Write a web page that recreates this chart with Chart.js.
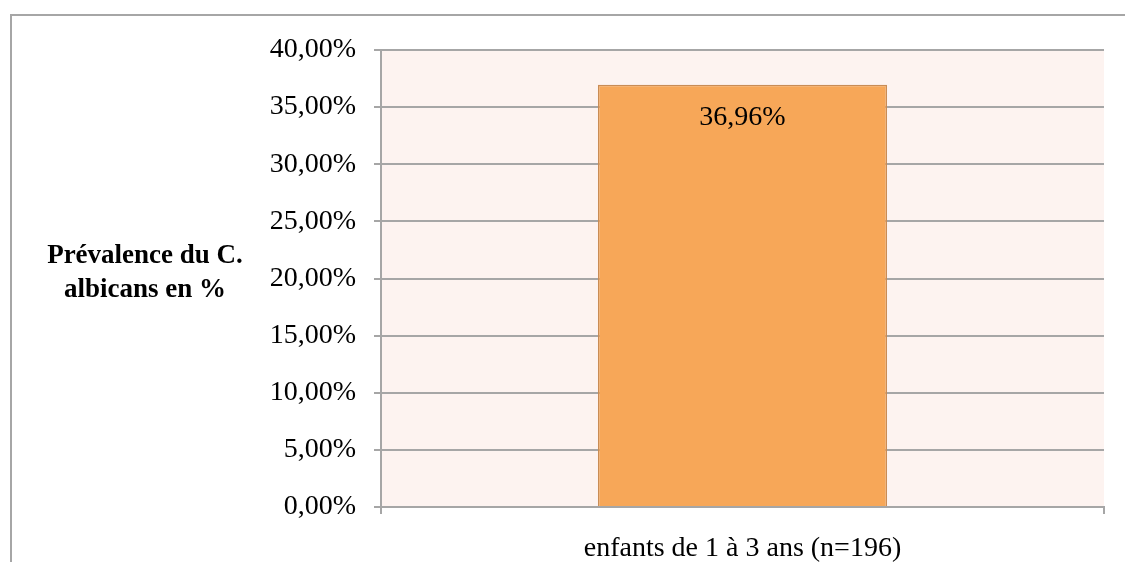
<!DOCTYPE html>
<html>
<head>
<meta charset="utf-8">
<script src="https://cdn.jsdelivr.net/npm/chart.js@4.4.0/dist/chart.umd.min.js"></script>
<style>
  html, body { margin: 0; padding: 0; background: #fff; }
  #contenedor { width: 1125px; height: 562px; }
</style>
</head>
<body>
<div id="contenedor"><canvas id="grafico"></canvas></div>
<script>
const categorias = ["enfants de 1 à 3 ans (n=196)"];
const valores = [36.96];
const ticksY = [0, 5, 10, 15, 20, 25, 30, 35, 40];
const tituloY = ["Prévalence du C.", "albicans en %"];

const fuente = "'Liberation Serif', 'DejaVu Serif', serif";
const formato = (v) => v.toFixed(2).replace(".", ",") + "%";

// fondo rosado del area de trazado y marco exterior
const fondo = {
  id: "fondo",
  beforeDraw(chart) {
    const { ctx, chartArea: a } = chart;
    ctx.save();
    ctx.fillStyle = "#FDF3F0";
    ctx.fillRect(a.left, a.top, a.right - a.left, a.bottom - a.top);
    ctx.strokeStyle = "#A6A6A6";
    ctx.lineWidth = 2;
    ctx.beginPath();
    ctx.moveTo(11, 562);
    ctx.lineTo(11, 15);
    ctx.lineTo(1125, 15);
    ctx.stroke();
    ctx.restore();
  },
};

// titulo horizontal del eje y + etiqueta del valor
const textos = {
  id: "textos",
  afterDatasetsDraw(chart) {
    const { ctx } = chart;
    ctx.save();
    ctx.fillStyle = "#000";
    ctx.textAlign = "center";
    ctx.textBaseline = "middle";
    ctx.font = "bold 27px " + fuente;
    ctx.fillText(tituloY[0], 145, 256);
    ctx.fillText(tituloY[1], 145, 290);

    ctx.font = "28px " + fuente;
    const meta = chart.getDatasetMeta(0);
    meta.data.forEach((bar, i) => {
      ctx.fillText(formato(valores[i]), bar.x, bar.y + 33);
    });
    ctx.restore();
  },
};

new Chart(document.getElementById("grafico"), {
  type: "bar",
  data: {
    labels: categorias,
    datasets: [
      {
        data: valores,
        backgroundColor: "#F7A758",
        borderColor: "#C98C55",
        borderWidth: 1.5,
        barPercentage: 0.4,
        categoryPercentage: 1,
      },
    ],
  },
  options: {
    responsive: true,
    maintainAspectRatio: false,
    animation: false,
    layout: { padding: { top: 50, right: 21, left: 0, bottom: 0 } },
    plugins: { legend: { display: false }, tooltip: { enabled: false } },
    scales: {
      y: {
        min: 0,
        max: 40,
        afterFit: (s) => { s.width = 381; },
        afterBuildTicks: (s) => { s.ticks = ticksY.map((v) => ({ value: v })); },
        border: { color: "#A6A6A6", width: 2 },
        grid: { color: "#A6A6A6", lineWidth: 2, tickLength: 7 },
        ticks: {
          padding: 18,
          color: "#000",
          font: { family: fuente, size: 28 },
          callback: (v) => formato(v),
        },
      },
      x: {
        afterFit: (s) => { s.height = 55; },
        border: { color: "#A6A6A6", width: 2 },
        grid: { offset: true, drawOnChartArea: false, color: "#A6A6A6", lineWidth: 2, tickLength: 7 },
        ticks: {
          padding: 18,
          color: "#000",
          font: { family: fuente, size: 28 },
        },
      },
    },
  },
  plugins: [fondo, textos],
});
</script>
</body>
</html>
